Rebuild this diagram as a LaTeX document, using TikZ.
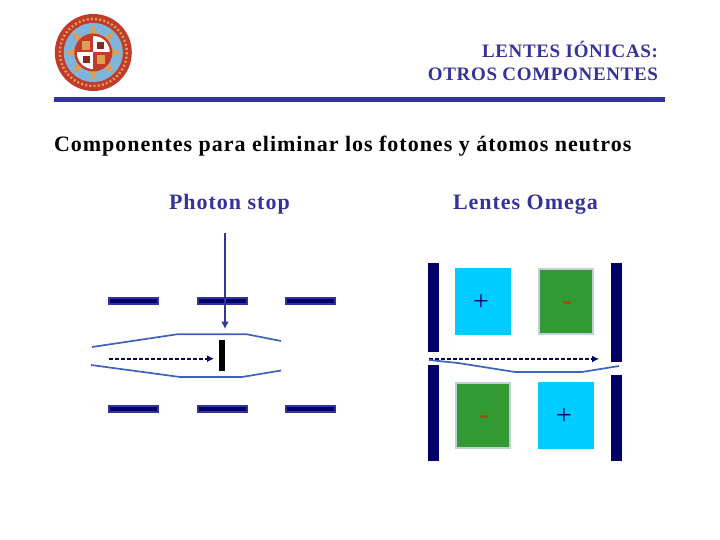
\documentclass[tikz,border=0pt]{standalone}
\usepackage{fontspec}
\setmainfont{Liberation Serif}
\newfontfamily\spacedbold[LetterSpace=4.5]{Liberation Serif Bold}
\newfontfamily\titlebold[LetterSpace=3.5]{Liberation Serif Bold}
\newfontfamily\plainbold{Liberation Serif Bold}
\usetikzlibrary{arrows.meta}
\definecolor{navyb}{HTML}{000066}
\definecolor{rule}{HTML}{333399}
\definecolor{beam}{HTML}{3D62BE}
\definecolor{cyanb}{HTML}{00CCFF}
\definecolor{greenb}{HTML}{339933}
\definecolor{greene}{HTML}{C0CFD8}
\definecolor{minusc}{HTML}{A04A10}
\definecolor{redl}{HTML}{C23B2A}
\definecolor{bluel}{HTML}{7FB4DC}
\definecolor{goldl}{HTML}{D8A050}
\tikzset{
 every node/.style={inner sep=0pt,outer sep=0pt},
 slit/.style={fill=navyb,draw=rule,line width=1.4pt,minimum width=49pt,minimum height=5.8pt},
 plate/.style={fill=navyb,minimum width=11pt},
 posbox/.style={fill=cyanb,minimum width=56pt,minimum height=67pt},
 negbox/.style={fill=greenb,draw=greene,line width=1.6pt,minimum width=54.5pt,minimum height=65.5pt},
 beamline/.style={draw=beam,line width=1.7pt},
 dasharrow/.style={draw=navyb,line width=1.8pt,dash pattern=on 3.6pt off 2.4pt,-{Latex[length=7pt,width=7pt]}},
 titletext/.style={font=\titlebold\fontsize{19}{20}\selectfont,text=rule,anchor=base east},
 bodytext/.style={font=\spacedbold\fontsize{22}{24}\selectfont,anchor=base west},
 sign/.style={font=\fontsize{28}{28}\selectfont},
 negsign/.style={font=\plainbold\fontsize{28}{28}\selectfont,text=minusc}
}
\begin{document}
\begin{tikzpicture}[x=1pt,y=-1pt]
\useasboundingbox (0,0) rectangle (720,540);
% crest
\fill[redl] (93.3,52.5) circle (38.5);
\draw[goldl,line width=2.4pt,dash pattern=on 2pt off 2.2pt] (93.3,52.5) circle (33.5);
\fill[bluel] (93.3,52.5) circle (29.5);
\fill[goldl] (93.3,23.5) -- (99,39) -- (114,32) -- (107,47) -- (122.5,52.5) -- (107,58) -- (114,73) -- (99,66) -- (93.3,81.5) -- (87.5,66) -- (72.5,73) -- (79.5,58) -- (64,52.5) -- (79.5,47) -- (72.5,32) -- (87.5,39) -- cycle;
\fill[redl] (93.3,52.5) circle (19);
\begin{scope}
\clip (93.3,52.5) circle (16.5);
\fill[white] (93.3,36) rectangle (110,52.5);
\fill[white] (76.5,52.5) rectangle (93.3,69);
\end{scope}
\fill[goldl] (82,41) rectangle (90,50);
\fill[goldl] (97,55) rectangle (105,64);
\fill[redl!70!black] (97,42) rectangle (104,49);
\fill[redl!70!black] (83,56) rectangle (90,63);
% header
\node[titletext] (t1) at (658,57.5) {LENTES IÓNICAS:};
\node[titletext] (t2) at (658,81) {OTROS COMPONENTES};
\fill[rule] (54,97) rectangle (665,102);
\node[bodytext] (sub) at (54,151.7) {Componentes para eliminar los fotones y átomos neutros};
\node[bodytext,text=rule] (ps) at (169,210) {Photon stop};
\node[bodytext,text=rule] (lo) at (453,210) {Lentes Omega};
% photon stop
\node[slit] (a1) at (133.5,301) {};
\node[slit] (a2) at (222.5,301) {};
\node[slit] (a3) at (310.5,301) {};
\node[slit] (b1) at (133.5,409) {};
\node[slit] (b2) at (222.5,409) {};
\node[slit] (b3) at (310.5,409) {};
\node[fill=black,minimum width=6pt,minimum height=31pt] (stop) at (222,355.5) {};
\coordinate (src) at (225,233);
\coordinate (tip) at (225,329);
\draw[draw=rule,line width=1.9pt,-{Latex[length=7.5pt,width=8pt]}] (src) -- (tip);
\coordinate (d1) at (109,358.7);
\coordinate (d1e) at (214,358.7);
\draw[dasharrow] (d1) -- (d1e);
\draw[beamline] (92,347) -- (177,334.3) -- (247,334.3) -- (281,341);
\draw[beamline] (91,365) -- (180,377) -- (242,377) -- (281,370.5);
% omega
\node[plate,minimum height=89pt] (l1) at (433.5,307.5) {};
\node[plate,minimum height=96pt] (l2) at (433.5,413) {};
\node[plate,minimum height=99pt] (r1) at (616.5,312.5) {};
\node[plate,minimum height=86pt] (r2) at (616.5,418) {};
\node[posbox] (c1) at (483,301.5) {};
\node[negbox] (g1) at (566,301.5) {};
\node[negbox] (g2) at (483,415.5) {};
\node[posbox] (c2) at (566,415.5) {};
\node[sign,text=navyb] (p1) at (481,303) {+};
\node[sign,text=navyb] (p2) at (564,417) {+};
\node[negsign] (m1) at (567,305.5) {-};
\node[negsign] (m2) at (484,419.5) {-};
\coordinate (d2) at (429,359);
\coordinate (d3) at (599,359);
\draw[dasharrow] (d2) -- (d3);
\draw[beamline] (429,360) -- (458,363) -- (515,372) -- (582,372) -- (619,366);
\end{tikzpicture}
\end{document}
